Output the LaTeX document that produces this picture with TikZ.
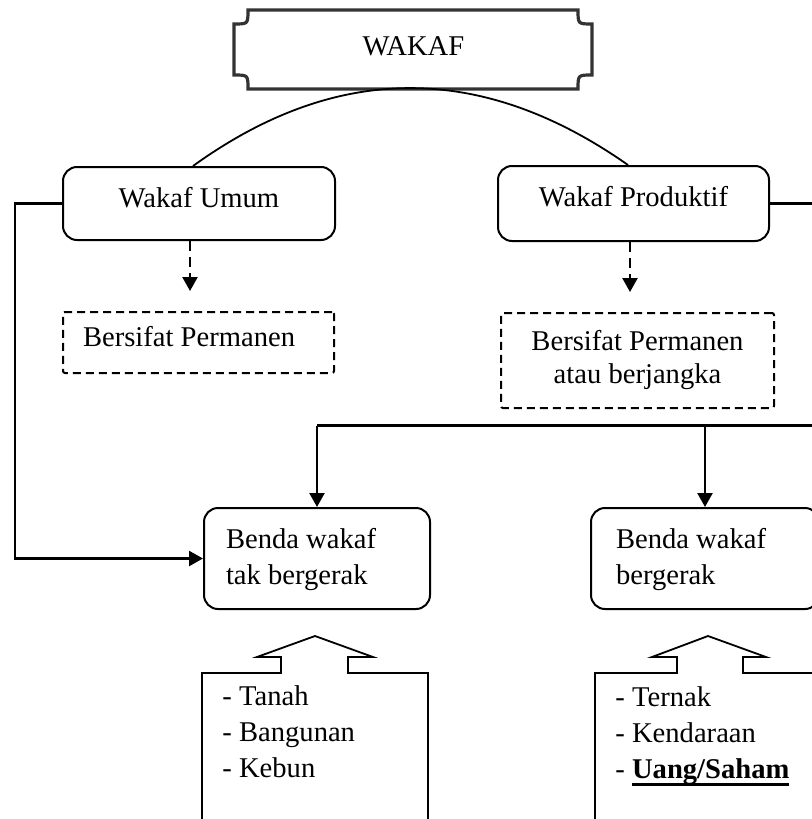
\documentclass[tikz,border=0pt]{standalone}
\usepackage{fontspec}
\setmainfont{Liberation Serif}
\usetikzlibrary{arrows.meta}

% one drawing unit (a pixel of the layout grid)
\newdimen\pxu \pxu=0.5pt

% thick underline used for the highlighted item
\newcommand\heavyul[1]{\setbox0\hbox{#1}\rlap{\rule[-3.75pt]{\wd0}{1.5pt}}\box0}

\tikzset{
  txt/.style={inner sep=0pt, font=\fontsize{14.3}{18}\selectfont},
  base/.style={txt, anchor=north west},
  roundbox/.style={base, draw, line width=1pt, rounded corners=7pt},
  dashbox/.style={base, draw, line width=1pt, dash pattern=on 4pt off 2.5pt, rounded corners=1pt},
  plaque/.style={line width=1.6pt, draw=black!80},
  link/.style={line width=1.2pt},
  arr/.style={link, -{Triangle[length=7pt,width=7.5pt]}},
  dasharr/.style={arr, dash pattern=on 5pt off 3pt},
  callout/.style={line width=0.9pt},
}

\begin{document}
\begin{tikzpicture}[x=0.5pt,y=-0.5pt]
\useasboundingbox (0,0) rectangle (811,819);

% title plaque with concave corners
\node[base, minimum width=358\pxu, text height=45\pxu, text depth=34\pxu] (wakaf) at (234,10) {WAKAF};
\draw[plaque] (248,10) -- (578,10) .. controls (578,24) .. (592,24)
  -- (592,75) .. controls (578,75) .. (578,89)
  -- (248,89) .. controls (248,75) .. (234,75)
  -- (234,24) .. controls (248,24) .. (248,10) -- cycle;

% the two kinds of wakaf
\node[roundbox, minimum width=272\pxu, text height=40\pxu, text depth=33\pxu] (wu) at (62,166) {Wakaf Umum};
\node[roundbox, minimum width=271\pxu, text height=40\pxu, text depth=35\pxu] (wp) at (497,165) {Wakaf Produktif};

% arc joining both kinds, grazing the bottom of the title plaque
\draw[line width=0.9pt] ([xshift=-3pt]wu.north) .. controls (336.7,62.3) and (481.7,62.3) .. ([xshift=-2.75pt]wp.north);

% duration notes
\node[dashbox, minimum width=271\pxu, text height=34\pxu, text depth=27\pxu] (ps1) at (62,311)
  {\parbox[t]{231\pxu}{Bersifat Permanen}};
\node[dashbox, minimum width=273\pxu, text height=37\pxu, text depth=58\pxu] (ps2) at (500,312)
  {\parbox[t]{273\pxu}{\fontsize{14.3}{16.5}\selectfont\centering Bersifat Permanen\\atau berjangka}};

\draw[dasharr, shorten >=20\pxu] ([xshift=-4.5pt]wu.south) -- ([xshift=-4.25pt]ps1.north);
\draw[dasharr, shorten >=20\pxu] ([xshift=-1.75pt]wp.south) -- ([xshift=-3.75pt]ps2.north);

% kinds of endowed property
\node[roundbox, minimum width=226\pxu, text height=40\pxu, text depth=61\pxu] (bt) at (203,507)
  {\parbox[t]{182\pxu}{\raggedright Benda wakaf\\tak bergerak}};
\node[roundbox, minimum width=228\pxu, text height=40\pxu, text depth=61\pxu] (bm) at (590,507)
  {\parbox[t]{178\pxu}{\raggedright Benda wakaf\\bergerak}};

% general wakaf feeds immovable property
\coordinate (lrail) at (15,400);
\draw[arr] (wu.west) -- (wu.west -| lrail) -- (bt.west -| lrail) -- (bt.west);

% productive wakaf feeds both kinds of property
\coordinate (rail) at (830,425.5);
\draw[link] (wp.east) -- (wp.east -| rail) -- (rail) -- (rail -| bt.north);
\draw[arr] (rail -| bt.north) -- (bt.north);
\draw[arr] (rail -| bm.north) -- (bm.north);

% example lists in arrow callouts
\draw[callout] (202,830) -- (202,673) -- (281,673) -- (281,657) -- (257,657) -- (315,636)
  -- (373,657) -- (348,657) -- (348,673) -- (428,673) -- (428,830);
\node[txt, anchor=base west] (immov) at (222,705)
  {\parbox[t]{190\pxu}{\raggedright - Tanah\\- Bangunan\\- Kebun}};

\draw[callout] (595,830) -- (595,673) -- (677,673) -- (677,657) -- (652,657) -- (708,636)
  -- (766,657) -- (743,657) -- (743,673) -- (830,673);
\node[txt, anchor=base west] (mov) at (615,706)
  {\parbox[t]{190\pxu}{\raggedright - Ternak\\- Kendaraan\\- \heavyul{\textbf{Uang/Saham}}}};
\end{tikzpicture}
\end{document}
